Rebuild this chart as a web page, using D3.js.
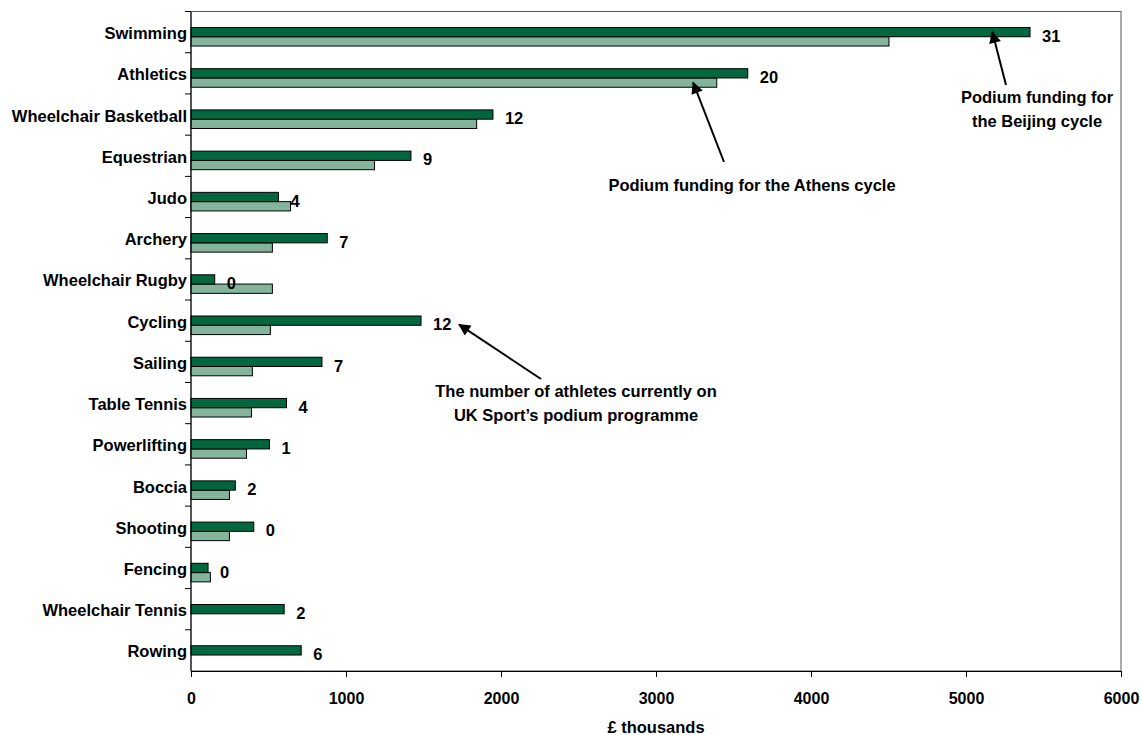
<!DOCTYPE html>
<html><head><meta charset="utf-8">
<script src="https://cdn.jsdelivr.net/npm/d3@7"></script>
<style>
body{margin:0;background:#fff;}
text{font-family:"Liberation Sans",Arial,Helvetica,sans-serif;font-weight:bold;fill:#000;}
</style></head>
<body><svg id="c" width="1141" height="735"></svg>
<script>
const sports = ["Swimming","Athletics","Wheelchair Basketball","Equestrian","Judo","Archery","Wheelchair Rugby","Cycling","Sailing","Table Tennis","Powerlifting","Boccia","Shooting","Fencing","Wheelchair Tennis","Rowing"];
const beijing = [5413,3592,1948,1419,564,879,153,1484,845,616,506,286,405,110,601,711];
const athens  = [4503,3392,1843,1184,642,525,525,512,396,390,358,248,248,125,0,0];
const athletes = [31,20,12,9,4,7,0,12,7,4,1,2,0,0,2,6];
const xTicks = [0,1000,2000,3000,4000,5000,6000];

const svg = d3.select("#c");
const L=191, R=1121, T=11.5, B=671;
const FS=16.5;
const x = d3.scaleLinear().domain([0,6000]).range([L,R]);
const y = d3.scaleBand().domain(sports).range([T,B]).paddingInner(0).paddingOuter(0);
const sub = d3.scaleBand().domain(["gap","beijing","athens"]).range([0,y.bandwidth()]).paddingInner(0).paddingOuter(0.72);
const darkC="#02673f", lightC="#84b49c";

svg.append("rect").attr("x",L).attr("y",T).attr("width",R-L).attr("height",B-T)
  .attr("fill","none").attr("stroke","#555").attr("stroke-width",1);

const data = sports.map((s,i)=>({s,b:beijing[i],a:athens[i],n:athletes[i]}));

svg.selectAll("rect.a").data(data.filter(d=>d.a>0)).enter().append("rect").attr("class","a")
  .attr("x",x(0)).attr("y",d=>y(d.s)+sub("athens")).attr("width",d=>x(d.a)-x(0)).attr("height",sub.bandwidth())
  .attr("fill",lightC).attr("stroke","#000").attr("stroke-width",1);
svg.selectAll("rect.b").data(data).enter().append("rect").attr("class","b")
  .attr("x",x(0)).attr("y",d=>y(d.s)+sub("beijing")).attr("width",d=>x(d.b)-x(0)).attr("height",sub.bandwidth())
  .attr("fill",darkC).attr("stroke","#000").attr("stroke-width",1);

svg.selectAll("text.n").data(data).enter().append("text").attr("class","n")
  .attr("x",d=>x(d.b)+12).attr("y",d=>y(d.s)+sub("beijing")+sub.bandwidth()+5)
  .attr("font-size",FS).text(d=>d.n);

const yAxis = svg.append("g");
yAxis.append("line").attr("x1",L).attr("x2",L).attr("y1",T).attr("y2",B).attr("stroke","#000");
yAxis.selectAll("line.t").data(sports).enter().append("line")
  .attr("x1",L-6).attr("x2",L).attr("y1",d=>y(d)).attr("y2",d=>y(d)).attr("stroke","#000");
yAxis.selectAll("text").data(sports).enter().append("text")
  .attr("x",187).attr("y",d=>y(d)+y.bandwidth()/2+7).attr("text-anchor","end").attr("font-size",FS).text(d=>d);

const xa = svg.append("g").attr("transform",`translate(0,${B})`)
  .call(d3.axisBottom(x).tickValues(xTicks).tickSize(6).tickPadding(16).tickFormat(d3.format("d")));
xa.select(".domain").attr("stroke","#000");
xa.selectAll(".tick line").attr("stroke","#000");
xa.selectAll("text").attr("font-size",16).attr("font-family",null).attr("fill","#000");
svg.append("text").attr("x",x(3000)).attr("y",733).attr("text-anchor","middle").attr("font-size",FS).text("£ thousands");

const defs = svg.append("defs");
defs.append("marker").attr("id","ah").attr("viewBox","0 0 10 10").attr("refX",9).attr("refY",5)
  .attr("orient","auto").attr("markerUnits","userSpaceOnUse")
  .attr("markerWidth",14).attr("markerHeight",12)
  .append("path").attr("d","M0,0 L10,5 L0,10 z").attr("fill","#000");
function arrow(x1,y1,x2,y2){
  svg.append("line").attr("x1",x1).attr("y1",y1).attr("x2",x2).attr("y2",y2)
    .attr("stroke","#000").attr("stroke-width",2).attr("marker-end","url(#ah)");
}
const cy = s=>y(s)+sub("beijing")+sub.bandwidth()/2;
const ly = s=>y(s)+sub("athens")+sub.bandwidth()/2;
arrow(1006,85,x(5170),cy("Swimming"));
arrow(724,162,x(3240),ly("Athletics"));
arrow(541,379,x(1730),cy("Cycling")+4);

function label(cx,ys,lines){
  lines.forEach((t,i)=>svg.append("text").attr("x",cx).attr("y",ys+i*23.5).attr("text-anchor","middle").attr("font-size",FS).text(t));
}
label(1037,103,["Podium funding for","the Beijing cycle"]);
label(752,191,["Podium funding for the Athens cycle"]);
label(576,397,["The number of athletes currently on","UK Sport’s podium programme"]);
</script></body></html>
